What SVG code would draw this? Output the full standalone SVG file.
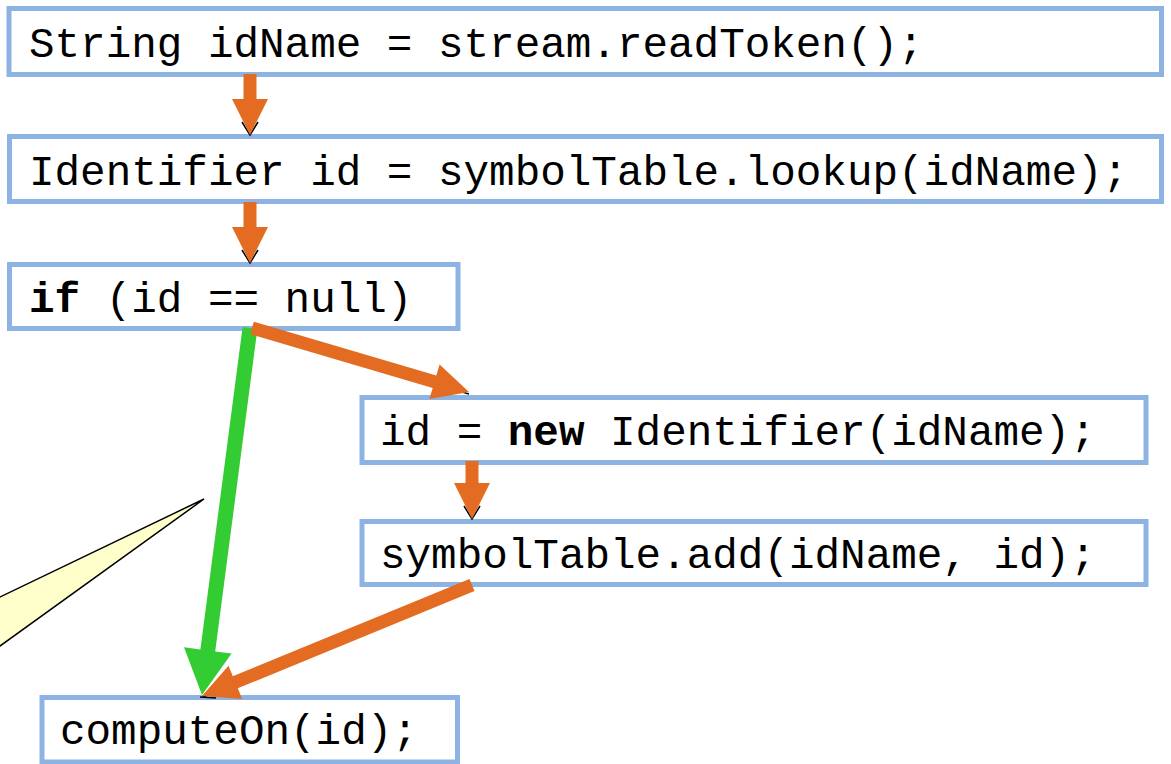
<svg xmlns="http://www.w3.org/2000/svg" width="1171" height="764" viewBox="0 0 1171 764">
  <style>
    .box { fill: #ffffff; stroke: #8db3e2; stroke-width: 5; }
    .code { font-family: "Liberation Mono", "Courier New", monospace; font-size: 42.6px; fill: #000000; }
    .kw { font-weight: bold; }
    .flow { fill: #e36c22; }
    .take { fill: #33cc33; }
    .wire { fill: none; stroke: #000000; stroke-width: 1.5; }
    .note { fill: #ffffcc; stroke: #000000; stroke-width: 1.5; stroke-linejoin: miter; }
  </style>
  <rect width="1171" height="764" fill="#ffffff"/>

  <!-- callout pointer -->
  <polygon class="note" points="204,499 -20,606.6 -20,660.4"/>

  <g id="n1">
    <rect class="box" x="9" y="8.5" width="1152.5" height="66"/>
    <text class="code" x="29" y="57">String idName = stream.readToken();</text>
  </g>
  <g id="n2">
    <rect class="box" x="9.5" y="136.5" width="1152" height="65"/>
    <text class="code" x="29" y="185">Identifier id = symbolTable.lookup(idName);</text>
  </g>
  <g id="n3">
    <rect class="box" x="9.5" y="264.5" width="448.5" height="64"/>
    <text class="code" x="29" y="312"><tspan class="kw">if</tspan> (id == null)</text>
  </g>
  <g id="n4">
    <rect class="box" x="362" y="397.5" width="784" height="65"/>
    <text class="code" x="380" y="445">id = <tspan class="kw">new</tspan> Identifier(idName);</text>
  </g>
  <g id="n5">
    <rect class="box" x="362" y="521.5" width="784" height="63"/>
    <text class="code" x="380" y="568">symbolTable.add(idName, id);</text>
  </g>
  <g id="n6">
    <rect class="box" x="42" y="697.5" width="415.5" height="64.5"/>
    <text class="code" x="60" y="744">computeOn(id);</text>
  </g>

  <g id="connectors">
    <!-- thin underlying lines and their heads -->
    <polyline class="wire" points="242,122 250,135 258,122"/>
    <polyline class="wire" points="242,250 250,263 258,250"/>
    <polyline class="wire" points="464,506 472,519 480,506"/>
    <line class="wire" x1="252" y1="331" x2="469" y2="394"/>
    <line class="wire" x1="472" y1="587" x2="203" y2="697"/>
    <line class="wire" x1="200" y1="697" x2="216" y2="698"/>

    <!-- null branch -->
    <polygon class="take" points="242.6,327 257.4,329 215.2,651.4 231.6,653.5 202,695 184,647.3 200.4,649.4"/>

    <!-- sequential flow -->
    <polygon class="flow" points="243.5,74 256.5,74 256.5,99 268,99 250,135 232,99 243.5,99"/>
    <polygon class="flow" points="243.5,202 256.5,202 256.5,227 268,227 250,263 232,227 243.5,227"/>
    <polygon class="flow" points="253.8,321.8 436.3,375.6 439.6,364.5 469,392 429.4,399.1 432.7,388.0 250.2,334.2"/>
    <polygon class="flow" points="465.5,461 478.5,461 478.5,483 490,483 472,519 454,483 465.5,483"/>
    <polygon class="flow" points="469.5,579.0 232.8,676.3 228.5,665.7 202,696 242.1,698.9 237.8,688.3 474.5,591.0"/>
  </g>
</svg>
